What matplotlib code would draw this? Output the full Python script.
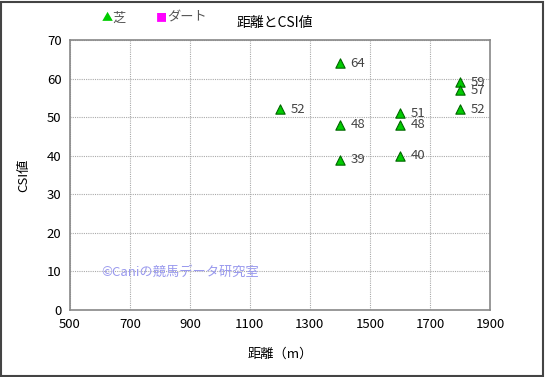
import matplotlib.pyplot as plt
from matplotlib.patches import Rectangle

plt.rcParams['font.family'] = ['Noto Sans CJK JP', 'DejaVu Sans']

# 芝 data
distance = [1200, 1400, 1400, 1400, 1600, 1600, 1600, 1800, 1800, 1800]
csi = [52, 64, 48, 39, 51, 48, 40, 59, 57, 52]
labels = ["52", "64", "48", "39", "51", "48", "40", "59", "57", "52"]

fig = plt.figure(figsize=(5.45, 3.77), dpi=100)
ax = fig.add_axes([0.128, 0.178, 0.771, 0.716])

ax.scatter(distance, csi, marker="^", s=45, color="#00cc00",
           edgecolors="#006600", linewidths=0.8, zorder=3)
for x, y, t in zip(distance, csi, labels):
    ax.text(x + 35, y, t, fontsize=9.5, color="#444444", va="center", ha="left")

ax.set_xlim(500, 1900)
ax.set_ylim(0, 70)
ax.set_xticks(range(500, 2000, 200))
ax.set_yticks(range(0, 80, 10))
ax.tick_params(length=0, labelsize=9.5, pad=6)
ax.grid(True, color="#aaaaaa", linestyle=(0, (1, 1)), linewidth=0.8)
for s in ax.spines.values():
    s.set_color("#888888")
    s.set_linewidth(1.2)

ax.set_xlabel("距離（m）", fontsize=9.5, labelpad=12)
ax.set_ylabel("CSI値", fontsize=9.5, labelpad=12)

ax.text(0.075, 0.14, "©Caniの競馬データ研究室", transform=ax.transAxes,
        fontsize=9.5, color="#9999ee", va="center")

fig.text(0.505, 0.94, "距離とCSI値", fontsize=10, ha="center", va="center")
fig.text(0.186, 0.952, "▲", fontsize=8, color="#00cc00", ha="left", va="center")
fig.text(0.207, 0.952, "芝", fontsize=9.5, color="#555555", ha="left", va="center")
fig.text(0.286, 0.952, "■", fontsize=8, color="#ff00ff", ha="left", va="center")
fig.text(0.307, 0.952, "ダート", fontsize=9.5, color="#555555", ha="left", va="center")

fig.patches.append(Rectangle((0.002, 0.003), 0.995, 0.993, transform=fig.transFigure,
                             fill=False, edgecolor="#444444", linewidth=1.5))

fig.savefig("out.png", dpi=100)
